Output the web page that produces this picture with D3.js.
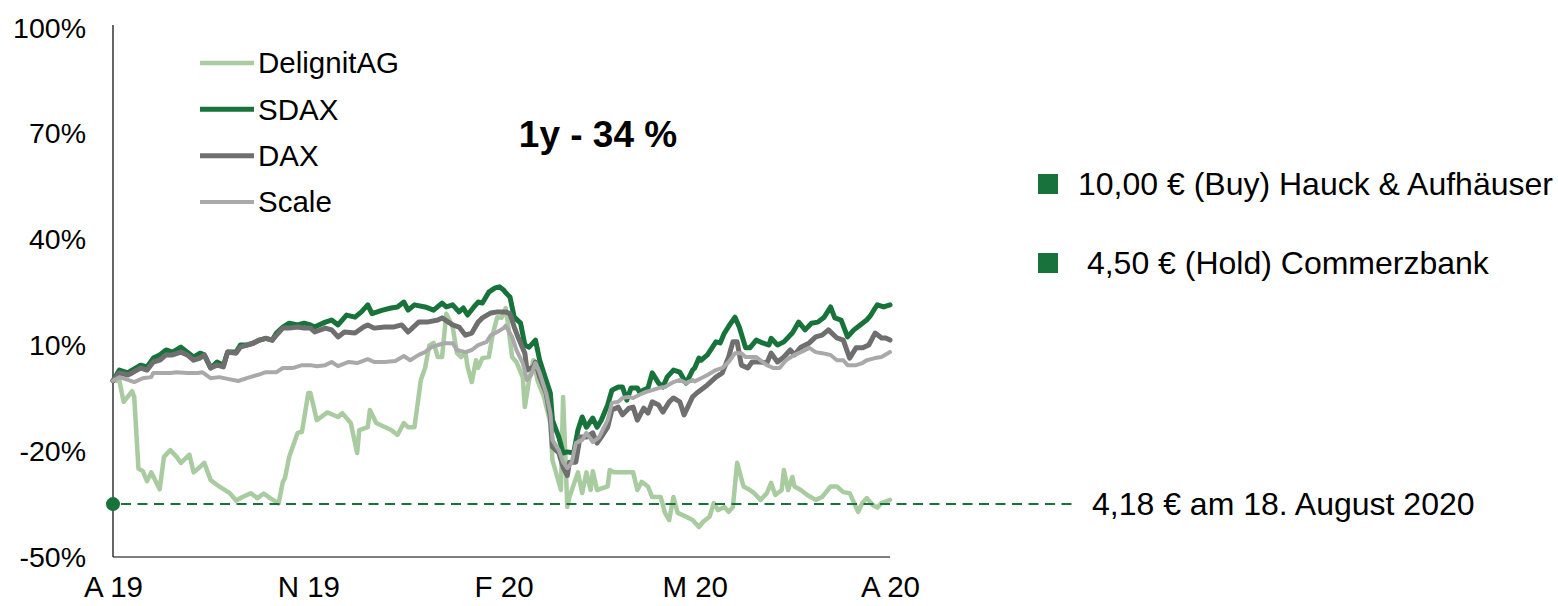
<!DOCTYPE html>
<html>
<head>
<meta charset="utf-8">
<script src="https://cdn.jsdelivr.net/npm/d3@7"></script>
<style>
  html, body { margin: 0; padding: 0; background: #ffffff; }
  svg { display: block; font-family: "Liberation Sans", Arial, sans-serif; }
</style>
</head>
<body>
<svg id="chart" width="1558" height="606"></svg>
<script>
// ---- data (day offset from start date, % change) ----
const startDate = "2019-08-18";
const endDate = "2020-08-18";
const tickDates = ["2019-08-18", "2019-11-18", "2020-02-18", "2020-05-18", "2020-08-18"];
const tickLabels = ["A 19", "N 19", "F 20", "M 20", "A 20"];
const yTicks = [100, 70, 40, 10, -20, -50];
const seriesNames = ["DelignitAG", "SDAX", "DAX", "Scale"];

const delignit = [[0,0],[3,0],[5,-6],[9,-3],[10,-4.6],[12,-25],[14,-25.6],[16,-28.5],[18,-26],[22,-30.8],[24,-21.6],[27,-19.7],[30,-21.6],[32,-23.3],[36,-21],[38,-26],[40,-25],[43,-23.3],[46,-28.2],[50,-30],[55,-31.9],[58,-34],[61,-33],[65,-31.9],[68,-33.3],[71,-32],[74,-33.3],[78,-34.8],[80,-28.7],[81,-27.6],[83,-21.6],[87,-14.8],[89,-14.5],[92,-3.5],[93,-3.5],[96,-11.2],[101,-9],[106,-10.3],[108,-9.2],[112,-12],[115,-20.5],[116,-14],[120,-13.2],[121,-8.3],[124,-12],[131,-14],[134,-15.4],[137,-12],[139,-13.2],[142,-13.2],[145,0.2],[147,3.6],[149,10],[151,10.7],[153,6.7],[155,6.7],[157,19],[160,15.2],[162,7.9],[164,6.7],[166,8],[167,4],[169,-0.4],[171,5.8],[172,3.6],[174,6.4],[177,6.7],[179,13.5],[181,18],[183,17.8],[185,20.6],[186,16.3],[188,6.7],[190,5.3],[193,1],[194,-7.5],[196,0.2],[198,5.8],[200,0],[203,-4.6],[206,-12],[207,-22.5],[211,-31],[212,-4.6],[214,-35.8],[215,-33],[219,-26],[221,-31.9],[223,-26],[225,-31],[226,-25.7],[228,-31],[233,-30],[234,-25.3],[236,-26],[245,-26],[247,-31],[249,-28.7],[252,-30],[254,-33],[258,-33],[260,-37.5],[262,-39.5],[264,-33],[266,-37.5],[270,-38.6],[273,-39.5],[276,-41.5],[278,-40],[281,-38.6],[283,-34.7],[285,-36.7],[288,-35.8],[290,-37.2],[292,-35.8],[294,-23.3],[297,-30],[300,-31],[302,-31.9],[305,-33.8],[308,-31.9],[310,-29],[312,-32.4],[315,-31],[316,-25.3],[318,-31],[320,-27.3],[321,-30],[324,-31],[327,-32.4],[331,-33.8],[334,-33],[338,-30],[341,-30],[344,-31.6],[347,-31.9],[351,-37.2],[353,-34.7],[355,-33.3],[358,-35.3],[360,-36],[362,-34.7],[366,-33.8]];

const sdax = [[0,0],[3,3],[7,2.2],[9,3],[13,4.4],[16,3.9],[19,6.4],[22,7.3],[25,8.7],[28,8.1],[32,9.5],[35,8.1],[38,6.7],[41,7.8],[43,7.3],[46,3.6],[49,5.3],[52,4.4],[54,8.1],[58,8.1],[60,10.1],[63,10.1],[66,10.6],[69,11.5],[72,12],[75,11.5],[77,13.5],[80,15.2],[83,16.3],[87,15.8],[90,16.3],[93,15.8],[95,15.2],[100,16.6],[103,17.2],[106,15.8],[110,18.6],[114,18],[117,19.5],[120,21.5],[122,19],[127,20],[131,20.6],[134,20.9],[137,22.3],[139,20],[142,21.5],[147,20.9],[151,20],[155,22],[157,20.9],[160,21.5],[163,19.5],[165,20.6],[167,18.6],[170,20.9],[172,22.3],[174,22],[177,25.1],[180,26.3],[182,26.6],[184,25.7],[185,24.9],[187,23.7],[189,18],[192,16.3],[194,10.1],[196,9.5],[199,11.5],[201,5.8],[204,0.2],[206,-3.5],[207,-11.2],[210,-16],[212,-20.5],[214,-20.2],[217,-20.5],[219,-14],[221,-10.3],[223,-13.2],[226,-10.6],[228,-13.2],[230,-11.2],[233,-6.9],[235,-2.7],[238,-1.8],[240,-1.8],[242,-5.5],[244,-2.1],[247,-2.1],[248,-3.2],[252,-2.1],[254,2.2],[257,-0.7],[259,-1.8],[261,1],[264,3],[267,2.4],[270,-0.7],[273,3],[274,3.6],[276,6.4],[277,5.8],[280,7.3],[284,11],[286,10.7],[288,13.5],[291,16.3],[293,18],[295,15.2],[298,9.3],[300,9.3],[303,11.5],[306,10.7],[309,10.1],[310,12],[313,10.1],[316,11],[320,13.5],[323,16.6],[326,14.4],[329,16.3],[332,16.6],[335,18],[338,20.9],[340,17.8],[343,17.2],[346,12.4],[349,14.4],[352,15.8],[355,17.2],[357,18.6],[359,20.6],[360,21.5],[363,20.9],[366,21.5]];

const dax = [[0,0],[3,2.2],[7,1.6],[9,2.2],[13,3.6],[16,3],[19,5.3],[22,5.8],[25,7.3],[28,7.3],[32,8.1],[35,7.3],[38,5.8],[41,6.4],[43,7.3],[46,3.6],[49,4.4],[52,3.9],[54,8.1],[58,7.8],[60,9.5],[63,10.1],[66,10.6],[69,11.5],[72,12],[75,11.5],[77,12.9],[80,14.9],[83,14.9],[87,15.2],[90,14.9],[93,14.9],[95,13.8],[100,14.9],[103,14.4],[106,12.4],[109,13.8],[114,13.5],[118,15.2],[120,15.8],[123,14.9],[128,15.2],[132,15.2],[136,15.8],[139,13.8],[144,16.6],[148,16.6],[153,17.2],[155,17.8],[158,16.6],[160,15.8],[163,15.2],[166,12.9],[169,13.5],[172,16.6],[174,17.8],[178,19.2],[181,19.5],[185,19.5],[187,19],[189,15.2],[191,12],[194,7.8],[195,3],[198,3.9],[199,5.3],[201,1],[204,-3.5],[206,-10.3],[207,-18.8],[210,-20.5],[212,-24.5],[214,-26.9],[215,-23.1],[218,-23.1],[220,-16],[223,-16],[226,-14.8],[228,-17.7],[230,-16],[233,-13.2],[235,-8.3],[238,-7.5],[240,-9.7],[243,-7.8],[245,-7.5],[247,-11.2],[250,-7.8],[252,-9.2],[254,-6],[257,-6.9],[259,-8.9],[262,-6],[264,-4.9],[267,-6],[269,-9.7],[273,-4.6],[275,-3.5],[280,-1.2],[284,1],[287,2.2],[290,6.7],[292,11],[294,11],[296,4.4],[299,3.6],[301,5.3],[305,5.3],[308,5],[310,7.8],[313,5.3],[316,6.7],[319,8.7],[321,7.3],[324,9.5],[328,10.7],[331,12.4],[334,12.9],[337,14.4],[341,12.1],[344,11.5],[346,8.1],[347,6.4],[350,9.3],[353,9.3],[356,10.1],[359,13.5],[362,12.1],[364,12.1],[366,11.5]];

const scale = [[0,0],[3,1],[7,0.2],[10,-0.4],[14,0.7],[18,1],[19,2.2],[24,2.2],[27,2.2],[30,2.4],[35,2.2],[40,2.2],[42,2.4],[46,0.7],[50,1],[54,0.5],[59,-0.1],[63,0.7],[68,1.6],[72,2.4],[77,2.4],[80,3.6],[85,3.6],[89,4.4],[93,4.4],[96,4.1],[100,4.4],[103,5.3],[106,4.1],[111,5.3],[115,5],[120,6.1],[123,5.3],[128,5.3],[133,5.6],[137,7],[140,5.8],[144,7.3],[147,8.1],[150,9.5],[153,10.1],[156,10.6],[160,10.6],[162,8.7],[166,8.1],[169,8.7],[172,10.1],[176,11],[178,12.9],[181,13.8],[184,14.9],[185,15.6],[188,12.4],[190,8.7],[193,5],[195,0.2],[197,1.6],[199,5],[201,2.2],[204,-3.5],[206,-9.2],[207,-16.8],[210,-19.7],[212,-23.1],[214,-24.8],[216,-23.3],[218,-17.7],[221,-16.8],[223,-14.8],[226,-17.4],[229,-16],[233,-11.2],[235,-6.3],[238,-6],[240,-4.9],[243,-4.6],[245,-4.9],[248,-4],[251,-3.2],[254,-2.7],[257,-2.1],[260,-1.8],[264,-0.4],[267,0.2],[270,-0.7],[273,0.2],[274,-0.2],[277,0.7],[280,1.6],[284,3],[287,3.6],[290,5.3],[293,7.8],[296,7.8],[298,6.7],[300,6.7],[303,6.7],[306,5.3],[308,4.4],[311,3.6],[314,3.6],[317,5.8],[321,7.3],[324,8.1],[328,9.3],[331,8.1],[334,7.8],[338,7.3],[341,5.8],[344,5.8],[346,4.4],[350,4.4],[353,5],[355,5.8],[359,6.4],[362,6.7],[366,8.1]];

const priceLevel = -35;            // 4,18 € line
const priceLabel = "4,18 € am 18. August 2020";
const title = "1y - 34 %";
const targets = ["10,00 € (Buy) Hauck & Aufhäuser", " 4,50 € (Hold) Commerzbank"];

// ---- styles ----
const colors = { "DelignitAG": "#a8cba0", "SDAX": "#17733a", "DAX": "#6f6f6f", "Scale": "#a9a9a9" };
const widths = { "DelignitAG": 4.5, "SDAX": 5, "DAX": 5, "Scale": 4 };
const seriesData = { "DelignitAG": delignit, "SDAX": sdax, "DAX": dax, "Scale": scale };

const svg = d3.select("#chart");
const parse = d3.utcParse("%Y-%m-%d");
const t0 = parse(startDate);
const dayMs = 86400000;

const x = d3.scaleUtc().domain([t0, parse(endDate)]).range([113, 890]);
const y = d3.scaleLinear().domain([-50, 100]).range([557, 28]);

// axes
const yAxis = d3.axisLeft(y).tickValues(yTicks).tickSize(0).tickPadding(27).tickFormat(d => d + "%");
const gy = svg.append("g").attr("transform", "translate(113,0)").call(yAxis);
gy.select(".domain").attr("d", "M0,25V557").attr("stroke", "#000").attr("stroke-width", 1.2);
gy.selectAll("text").attr("font-size", 28.5).attr("fill", "#000").attr("font-family", "Liberation Sans, Arial, sans-serif");

const xAxis = d3.axisBottom(x).tickValues(tickDates.map(parse)).tickSize(0).tickPadding(19)
  .tickFormat((d, i) => tickLabels[i]);
const gx = svg.append("g").attr("transform", "translate(0,557)").call(xAxis);
gx.select(".domain").attr("d", "M113,0H890").attr("stroke", "#000").attr("stroke-width", 1.2);
gx.selectAll("text").attr("font-size", 29.5).attr("fill", "#000").attr("font-family", "Liberation Sans, Arial, sans-serif");

// lines
const line = d3.line()
  .x(d => x(new Date(t0.getTime() + d[0] * dayMs)))
  .y(d => y(d[1]))
  .curve(d3.curveLinear);

seriesNames.forEach(name => {
  svg.append("path")
    .datum(seriesData[name])
    .attr("fill", "none")
    .attr("stroke", colors[name])
    .attr("stroke-width", widths[name])
    .attr("stroke-linejoin", "round")
    .attr("stroke-linecap", "round")
    .attr("d", line);
});

// price level dashed line and dot
svg.append("line")
  .attr("x1", x(t0) + 8).attr("x2", 1072)
  .attr("y1", y(priceLevel)).attr("y2", y(priceLevel))
  .attr("stroke", "#17733a").attr("stroke-width", 2).attr("stroke-dasharray", "10,6.5");
svg.append("circle").attr("cx", x(t0)).attr("cy", y(priceLevel)).attr("r", 7).attr("fill", "#17733a");
svg.append("text").attr("x", 1092).attr("y", y(priceLevel)).attr("dy", "0.35em")
  .attr("font-size", 32).attr("fill", "#000").text(priceLabel);

// legend
const legend = svg.append("g");
const legendY = d3.scalePoint().domain(seriesNames).range([63, 202]);
seriesNames.forEach(name => {
  const ly = legendY(name);
  legend.append("line").attr("x1", 200).attr("x2", 254).attr("y1", ly).attr("y2", ly)
    .attr("stroke", colors[name]).attr("stroke-width", widths[name]);
  legend.append("text").attr("x", 258).attr("y", ly).attr("dy", "0.35em")
    .attr("font-size", 29.5).attr("fill", "#000").text(name);
});

// title
svg.append("text").attr("x", 598).attr("y", 147).attr("text-anchor", "middle")
  .attr("font-size", 37).attr("font-weight", "bold").attr("fill", "#000").text(title);

// targets
const targetY = d3.scalePoint().domain(targets).range([184, 263]);
targets.forEach((t, i) => {
  const ty = targetY(t);
  svg.append("rect").attr("x", 1038).attr("y", ty - 10).attr("width", 20).attr("height", 20).attr("fill", "#17733a");
  svg.append("text").attr("x", 1078).attr("y", ty).attr("dy", "0.35em")
    .attr("font-size", 32).attr("fill", "#000").attr("xml:space", "preserve").style("white-space", "pre").text(t);
});
</script>
</body>
</html>
